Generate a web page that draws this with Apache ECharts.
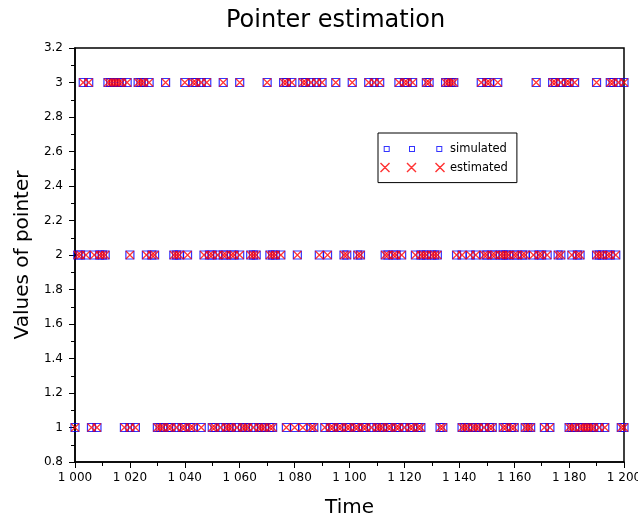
<!DOCTYPE html>
<html>
<head>
<meta charset="utf-8">
<script src="https://cdn.jsdelivr.net/npm/echarts@6/dist/echarts.min.js"></script>
<style>html,body{margin:0;padding:0;background:#fff}#c{width:638px;height:519px}</style>
</head>
<body>
<div id="c"></div>
<script>
// Times at which the pointer takes each value
const timesAtOne = [1000, 1006, 1008, 1018, 1020, 1022, 1030, 1031, 1032, 1034, 1035, 1037, 1039, 1040, 1042, 1043, 1046,
  1050, 1051, 1053, 1055, 1056, 1057, 1059, 1061, 1062, 1063, 1065, 1067, 1068, 1069, 1071, 1072,
  1077, 1080, 1083, 1086, 1087, 1091, 1093, 1094, 1096, 1097, 1099, 1100, 1102, 1103, 1105, 1106, 1108,
  1110, 1111, 1112, 1114, 1115, 1117, 1118, 1120, 1122, 1123, 1125, 1126, 1133, 1134,
  1141, 1142, 1143, 1145, 1146, 1147, 1149, 1151, 1152, 1156, 1157, 1159, 1160, 1164, 1165, 1166,
  1171, 1173, 1180, 1181, 1182, 1184, 1185, 1186, 1187, 1188, 1189, 1191, 1193, 1199, 1200];
const timesAtTwo = [1001, 1002, 1004, 1007, 1009, 1010, 1011, 1020, 1026, 1028, 1029, 1036, 1037, 1038, 1041,
  1047, 1049, 1050, 1052, 1054, 1055, 1057, 1058, 1060, 1064, 1065, 1066, 1071, 1072, 1073, 1075,
  1081, 1089, 1092, 1098, 1099, 1103, 1104, 1113, 1114, 1116, 1117, 1119,
  1124, 1126, 1127, 1128, 1130, 1131, 1132, 1139, 1141, 1144, 1146,
  1149, 1150, 1152, 1153, 1155, 1156, 1157, 1158, 1160, 1161, 1163, 1164,
  1167, 1169, 1170, 1172, 1176, 1177, 1181, 1183, 1184, 1190, 1191, 1192, 1194, 1195, 1197];
const timesAtThree = [1003, 1005, 1012, 1013, 1014, 1015, 1016, 1017, 1019, 1023, 1024, 1025, 1027, 1033,
  1040, 1043, 1044, 1046, 1048, 1054, 1060, 1070, 1076, 1077, 1079, 1083, 1084, 1086, 1088, 1090,
  1095, 1101, 1107, 1109, 1111, 1118, 1120, 1121, 1123, 1128, 1129, 1135, 1136, 1137, 1138,
  1148, 1150, 1151, 1154, 1168, 1174, 1175, 1177, 1179, 1180, 1182, 1190, 1195, 1196, 1198, 1200];

const pointerValues = [1, 2, 3];
const timeTicks = { min: 1000, max: 1200, step: 20 };
const valueTicks = { min: 0.8, max: 3.2, step: 0.2 };

const groups = [timesAtOne, timesAtTwo, timesAtThree];
const points = [];
groups.forEach((arr, i) => arr.forEach(t => points.push([t, pointerValues[i]])));
points.sort((a, b) => a[0] - b[0]);

const FONT = 'DejaVu Sans';
const squaresIcon = 'path://M0,0L0.01,0L0,0.01Z M65,10L64.99,10L65,9.99Z ' +
  'M3.7,2L9.7,2L9.7,8L3.7,8Z M4.7,3L4.7,7L8.7,7L8.7,3Z ' +
  'M29,2L35,2L35,8L29,8Z M30,3L30,7L34,7L34,3Z ' +
  'M56.3,2L62.3,2L62.3,8L56.3,8Z M57.3,3L57.3,7L61.3,7L61.3,3Z';
function xShape(ox) {
  return 'M' + ox + ',1L' + (ox + 1) + ',0L' + (ox + 10) + ',9L' + (ox + 9) + ',10Z ' +
    'M' + (ox + 9) + ',0L' + (ox + 10) + ',1L' + (ox + 1) + ',10L' + ox + ',9Z ';
}
const crossesIcon = 'path://' + xShape(0) + xShape(26.5) + xShape(55);

const chart = echarts.init(document.getElementById('c'));
chart.setOption({
  animation: false,
  backgroundColor: '#fff',
  title: {
    text: 'Pointer estimation',
    left: 221, top: 4,
    textStyle: { fontFamily: FONT, fontSize: 24, fontWeight: 'normal', color: '#000' }
  },
  grid: {
    left: 75, right: 14, top: 48, bottom: 57,
    containLabel: false, outerBoundsMode: 'none',
    show: true, borderColor: '#000', borderWidth: 1.5
  },
  legend: {
    orient: 'vertical', left: 378, top: 133,
    padding: [10, 9, 9, 2], itemGap: 6.6,
    itemWidth: 65, itemHeight: 10,
    borderColor: '#000', borderWidth: 1, backgroundColor: '#fff',
    textStyle: { fontFamily: FONT, fontSize: 11.5, color: '#000' },
    data: [
      { name: 'simulated', icon: squaresIcon, itemStyle: { color: '#0000ff', borderWidth: 0 } },
      { name: 'estimated', icon: crossesIcon, itemStyle: { color: '#ff0000', borderWidth: 0 } }
    ]
  },
  xAxis: {
    type: 'value', min: timeTicks.min, max: timeTicks.max, interval: timeTicks.step,
    name: 'Time', nameLocation: 'middle', nameGap: 36,
    nameTextStyle: { fontFamily: FONT, fontSize: 20, color: '#000' },
    axisLine: { show: true, onZero: false, lineStyle: { color: '#000', width: 1.5 } },
    axisTick: { show: true, length: 6, lineStyle: { color: '#000' } },
    minorTick: { show: true, splitNumber: 2, length: 4, lineStyle: { color: '#000' } },
    splitLine: { show: false },
    axisLabel: {
      margin: 10, fontFamily: FONT, fontSize: 12, color: '#000',
      formatter: v => String(v).replace(/\B(?=(\d{3})+(?!\d))/g, ' ')
    }
  },
  yAxis: {
    type: 'value', min: valueTicks.min, max: valueTicks.max, interval: valueTicks.step,
    name: 'Values of pointer', nameLocation: 'middle', nameGap: 39,
    nameTextStyle: { fontFamily: FONT, fontSize: 20, color: '#000' },
    axisLine: { show: true, onZero: false, lineStyle: { color: '#000', width: 1.5 } },
    axisTick: { show: true, length: 6, lineStyle: { color: '#000' } },
    minorTick: { show: true, splitNumber: 2, length: 4, lineStyle: { color: '#000' } },
    splitLine: { show: false },
    axisLabel: { margin: 12, fontFamily: FONT, fontSize: 12, color: '#000' }
  },
  series: [
    {
      name: 'simulated', type: 'scatter', data: points,
      symbol: 'rect', symbolSize: 8,
      itemStyle: { color: 'none', borderColor: '#0000ff', borderWidth: 1.2 },
      emphasis: { disabled: true }, z: 2
    },
    {
      name: 'estimated', type: 'scatter', data: points,
      symbol: 'path://M0,0L10,10M10,0L0,10', symbolSize: 8,
      itemStyle: { color: 'none', borderColor: '#ff0000', borderWidth: 1.2 },
      emphasis: { disabled: true }, z: 3
    }
  ]
});
</script>
</body>
</html>
